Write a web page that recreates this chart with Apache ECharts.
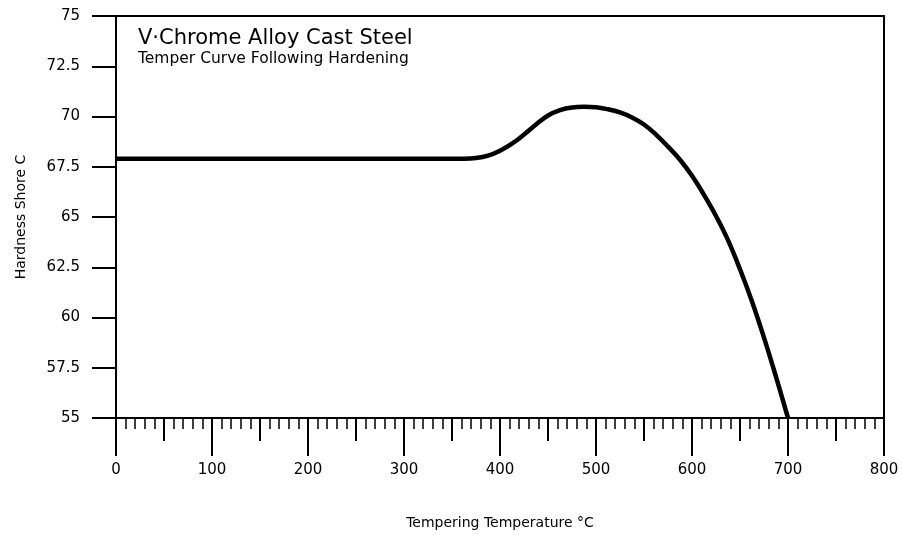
<!DOCTYPE html>
<html>
<head>
<meta charset="utf-8">
<script src="https://cdn.jsdelivr.net/npm/echarts@6/dist/echarts.min.js"></script>
<style>
html,body{margin:0;padding:0;background:#fff;}
#chart{width:902px;height:535px;}
</style>
</head>
<body>
<div id="chart"></div>
<script>
const titleText = 'V·Chrome Alloy Cast Steel';
const subtitleText = 'Temper Curve Following Hardening';
const xName = 'Tempering Temperature °C';
const yName = 'Hardness Shore C';
const temps = [0, 100, 200, 300, 325, 350, 362.5, 375, 387.5, 400, 412.5, 425, 437.5, 450, 462.5, 475, 487.5, 500, 512.5, 525, 537.5, 550, 562.5, 575, 587.5, 600, 612.5, 625, 637.5, 650, 662.5, 675, 687.5, 700];
const hardness = [67.9, 67.9, 67.9, 67.9, 67.9, 67.9, 67.9, 67.93, 68.05, 68.3, 68.65, 69.1, 69.6, 70.05, 70.32, 70.45, 70.48, 70.46, 70.36, 70.2, 69.95, 69.6, 69.1, 68.5, 67.85, 67.05, 66.1, 65.05, 63.85, 62.4, 60.8, 59.0, 57.05, 55.0];

const font = '"DejaVu Sans", sans-serif';
const chart = echarts.init(document.getElementById('chart'));
chart.setOption({
  backgroundColor: '#fff',
  animation: false,
  title: {
    text: titleText, subtext: subtitleText, left: 138, top: 28, itemGap: 2, padding: 0,
    textStyle: {fontFamily: font, fontSize: 21, fontWeight: 'normal', color: '#000'},
    subtextStyle: {fontFamily: font, fontSize: 15.5, color: '#000'}
  },
  grid: {left: 116, right: 18, top: 16, bottom: 115},
  xAxis: [
    {
      type: 'value', min: 0, max: 800, interval: 100, position: 'bottom',
      name: xName, nameLocation: 'middle', nameGap: 98,
      nameTextStyle: {fontFamily: font, fontSize: 14, color: '#000'},
      axisLine: {show: true, onZero: false, lineStyle: {color: '#000', width: 2}},
      axisTick: {show: true, length: 38, lineStyle: {color: '#000', width: 2}},
      minorTick: {show: true, splitNumber: 10, length: 11, lineStyle: {color: '#000', width: 1.5}},
      axisLabel: {margin: 45, fontFamily: font, fontSize: 15, color: '#000'},
      splitLine: {show: false}, minorSplitLine: {show: false}
    },
    {
      type: 'value', min: 0, max: 800, interval: 50, position: 'bottom',
      axisLine: {show: false},
      axisTick: {show: true, length: 23, lineStyle: {color: '#000', width: 2}},
      axisLabel: {show: false}, splitLine: {show: false}
    },
    {
      type: 'value', min: 0, max: 800, position: 'top',
      axisLine: {show: true, onZero: false, lineStyle: {color: '#000', width: 2}},
      axisTick: {show: false}, axisLabel: {show: false}, splitLine: {show: false}
    }
  ],
  yAxis: [
    {
      type: 'value', min: 55, max: 75, interval: 2.5, position: 'left',
      name: yName, nameLocation: 'middle', nameGap: 88,
      nameTextStyle: {fontFamily: font, fontSize: 14, color: '#000'},
      axisLine: {show: true, onZero: false, lineStyle: {color: '#000', width: 2}},
      axisTick: {show: true, length: 24, lineStyle: {color: '#000', width: 2}},
      axisLabel: {margin: 36, fontFamily: font, fontSize: 15, color: '#000'},
      splitLine: {show: false}
    },
    {
      type: 'value', min: 55, max: 75, position: 'right',
      axisLine: {show: true, onZero: false, lineStyle: {color: '#000', width: 2}},
      axisTick: {show: false}, axisLabel: {show: false}, splitLine: {show: false}
    }
  ],
  series: [{
    type: 'line', xAxisIndex: 0, yAxisIndex: 0,
    data: temps.map((t, i) => [t, hardness[i]]),
    smooth: 0.4, showSymbol: false, symbol: 'none',
    lineStyle: {color: '#000', width: 4.5},
    z: 5
  }]
});
</script>
</body>
</html>
